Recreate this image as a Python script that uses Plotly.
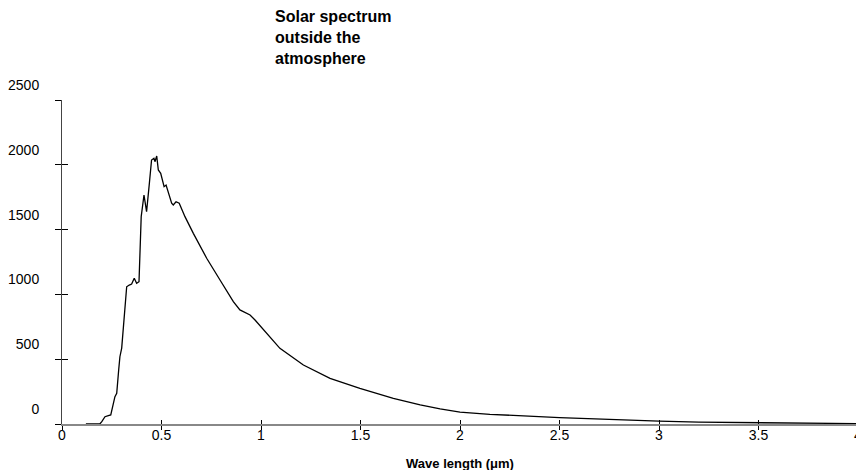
import plotly.graph_objects as go

# wavelength (um) and spectral irradiance
wavelength = [0.12, 0.19, 0.2, 0.216, 0.233, 0.245, 0.266, 0.275, 0.285, 0.291, 0.3,
              0.325, 0.338, 0.35, 0.363, 0.375, 0.387, 0.398, 0.412, 0.425, 0.439,
              0.45, 0.462, 0.467, 0.476, 0.484, 0.496, 0.513, 0.523, 0.534, 0.551,
              0.559, 0.573, 0.589, 0.618, 0.66, 0.727, 0.794, 0.861, 0.894, 0.945,
              0.97, 1.0, 1.095, 1.213, 1.347, 1.497, 1.665, 1.8, 1.9, 2.0, 2.15,
              2.5, 2.8, 3.0, 3.2, 3.5, 4.0]
irradiance = [0, 0, 18, 56, 64, 70, 211, 237, 420, 519, 586,
              1059, 1072, 1080, 1124, 1085, 1098, 1600, 1767, 1638, 1857,
              2037, 2050, 2024, 2068, 1960, 1934, 1831, 1844, 1780, 1703,
              1690, 1715, 1703, 1600, 1471, 1279, 1111, 944, 880, 841,
              802, 751, 584, 455, 352, 275, 198, 147, 116, 92, 75,
              49, 30, 22, 14, 8, 3]

x_ticks = [0, 0.5, 1, 1.5, 2, 2.5, 3, 3.5, 4]
x_labels = ["0", "0.5", "1", "1.5", "2", "2.5", "3", "3.5", "4"]
y_ticks = [0, 500, 1000, 1500, 2000, 2500]

font = "Liberation Sans, Arial, sans-serif"

fig = go.Figure()
fig.add_trace(go.Scatter(x=wavelength, y=irradiance, mode="lines",
                         line=dict(color="black", width=1.3), showlegend=False))

# page body has an 8px margin, so the plot box is pulled up/left by 8px
fig.update_layout(
    width=864, height=470,
    margin=dict(l=54, r=14, t=92, b=54),
    paper_bgcolor="white", plot_bgcolor="white",
    font=dict(family=font, size=14, color="black"),
    xaxis=dict(range=[0, 4], tickvals=x_ticks, ticktext=x_labels,
               ticks="outside", ticklen=4, tickcolor="black",
               showline=True, linecolor="#888", linewidth=1.5,
               showgrid=False, zeroline=False, automargin=False,
               ticklabelstandoff=-7, ticklabeloverflow="allow",
               title=dict(text="<b>Wave length (μm)</b>", font=dict(size=13), standoff=17)),
    xaxis2=dict(range=[0, 4], overlaying="x", tickvals=x_ticks, ticks="inside",
                ticklen=4, tickcolor="black", showticklabels=False, automargin=False,
                showline=False, showgrid=False, zeroline=False, anchor="y"),
    yaxis=dict(range=[0, 2500], tickvals=y_ticks, ticks="outside", ticklen=6,
               tickcolor="black", showline=True, linecolor="#444", linewidth=1,
               showgrid=False, zeroline=False, automargin=False,
               ticklabelshift=-15, ticklabelstandoff=13),
    yaxis2=dict(range=[0, 2500], overlaying="y", tickvals=y_ticks, ticks="inside",
                ticklen=6, tickcolor="black", showticklabels=False, automargin=False,
                showline=False, showgrid=False, zeroline=False, anchor="x"),
)

# invisible trace so the overlay axes get drawn
fig.add_trace(go.Scatter(x=[None], y=[None], xaxis="x2", yaxis="y2", showlegend=False))

fig.add_annotation(text="<b>Solar spectrum<br>outside the<br>atmosphere</b>",
                   xref="paper", yref="paper", x=(265 - 54) / 796, y=1,
                   xanchor="left", yanchor="top", yshift=94, align="left",
                   showarrow=False, font=dict(size=16))

fig.write_html("out.html")
